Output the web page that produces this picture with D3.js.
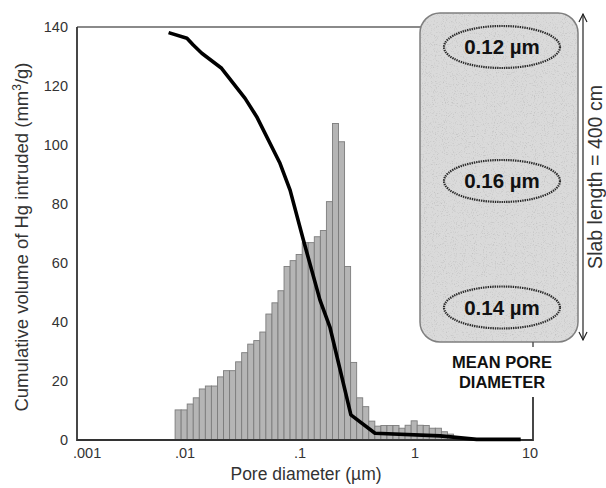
<!DOCTYPE html>
<html>
<head>
<meta charset="utf-8">
<script src="https://cdn.jsdelivr.net/npm/d3@7"></script>
<style>
  body { margin: 0; background: #fff; }
  svg { display: block; font-family: "Liberation Sans", Arial, sans-serif; }
</style>
</head>
<body>
<div class="canvas"></div>
<script>
// incremental intrusion per log-spaced bin
const barHeights = [10.2, 10.2, 12.2, 14.3, 17.3, 18.3, 18.3, 21.4, 23.5, 23.5,
    26.5, 29.6, 32.5, 33.7, 36.6, 42.7, 46.5, 50.6, 58.8, 60.8,
    62.9, 66.9, 66.9, 68.9, 71.0, 80.8, 107.3, 101.1, 58.8, 26.3,
    14.3, 11.3, 6.4, 4.7, 4.9, 4.9, 4.9, 4.0, 5.0, 6.5,
    5.0, 4.9, 4.0, 4.0, 2.8, 2.0, 1.2];
const binStart = 0.0082;   // lower edge of first bin, µm
const binsPerDecade = 19;

// cumulative curve
const curveDiameter = [0.0072, 0.0104, 0.0118, 0.014, 0.0208, 0.0333, 0.042, 0.067,
    0.082, 0.107, 0.149, 0.182, 0.277, 0.449, 1.65, 3.43, 8.3];
const curveVolume = [138.1, 136.2, 133.9, 131.1, 126.0, 115.8, 109.6, 93.8,
    84.7, 67.8, 47.5, 38.3, 8.5, 2.3, 1.4, 0.2, 0.2];

const xTicks = [0.001, 0.01, 0.1, 1, 10];
const xTickLabels = ['.001', '.01', '.1', '1', '10'];
const yTicks = [0, 20, 40, 60, 80, 100, 120, 140];

const poreLabels = ['0.12 µm', '0.16 µm', '0.14 µm'];

const dims = { width: 606, height: 488 };
const plot = { left: 77, top: 27, bottom: 440, right: 533 };

const svg = d3.select('.canvas')
    .append('svg')
    .attr('width', dims.width)
    .attr('height', dims.height);

const x = d3.scaleLog().domain([0.001, 10]).range([70, 530]);
const y = d3.scaleLinear().domain([0, 140]).range([plot.bottom, plot.top]);

// bars
const bins = barHeights.map((v, i) => ({
    lo: binStart * Math.pow(10, i / binsPerDecade),
    hi: binStart * Math.pow(10, (i + 1) / binsPerDecade),
    v
}));
svg.append('g').selectAll('rect')
    .data(bins)
    .enter().append('rect')
    .attr('x', d => x(d.lo))
    .attr('width', d => x(d.hi) - x(d.lo))
    .attr('y', d => y(d.v))
    .attr('height', d => y(0) - y(d.v))
    .attr('fill', '#b5b5b5')
    .attr('stroke', '#7c7c7c')
    .attr('stroke-width', 0.9);

// frame: top (grey), left and bottom (dark) + bracket up to the label
svg.append('line')
    .attr('x1', plot.left).attr('x2', 421)
    .attr('y1', plot.top).attr('y2', plot.top)
    .attr('stroke', '#8a8a8a').attr('stroke-width', 2);
svg.append('path')
    .attr('d', `M${plot.left},${plot.top}V${plot.bottom}H${plot.right}V397`)
    .attr('fill', 'none')
    .attr('stroke', '#333')
    .attr('stroke-width', 1.8);

// cumulative line
const line = d3.line()
    .x(d => x(d[0]))
    .y(d => y(d[1]));
svg.append('path')
    .datum(d3.zip(curveDiameter, curveVolume))
    .attr('d', line)
    .attr('fill', 'none')
    .attr('stroke', '#000')
    .attr('stroke-width', 3.6)
    .attr('stroke-linejoin', 'round');

// y tick labels
svg.append('g').selectAll('text')
    .data(yTicks)
    .enter().append('text')
    .attr('x', 68)
    .attr('y', d => y(d))
    .attr('dy', '0.36em')
    .attr('text-anchor', 'end')
    .attr('font-size', 14.5)
    .attr('fill', '#333')
    .text(d => d);

// x tick labels
svg.append('g').selectAll('text')
    .data(xTicks)
    .enter().append('text')
    .attr('x', (d, i) => i === 0 ? x(d) + 3 : x(d))
    .attr('y', 458)
    .attr('text-anchor', (d, i) => i === 0 ? 'start' : 'middle')
    .attr('font-size', 14.5)
    .attr('fill', '#333')
    .text((d, i) => xTickLabels[i]);

// axis titles
svg.append('text')
    .attr('x', 306).attr('y', 480)
    .attr('text-anchor', 'middle')
    .attr('font-size', 17.5)
    .attr('fill', '#333')
    .text('Pore diameter (µm)');

const yTitle = svg.append('text')
    .attr('transform', 'translate(28,237) rotate(-90)')
    .attr('text-anchor', 'middle')
    .attr('font-size', 18.5)
    .attr('fill', '#333');
yTitle.append('tspan').text('Cumulative volume of Hg intruded (mm');
yTitle.append('tspan').attr('font-size', 12).attr('dy', -7).text('3');
yTitle.append('tspan').attr('dy', 7).text('/g)');

// slab box with light speckle
const box = { x: 420, y: 13, w: 158, h: 329 };
const defs = svg.append('defs');
defs.append('clipPath').attr('id', 'boxclip')
    .append('rect')
    .attr('x', box.x).attr('y', box.y)
    .attr('width', box.w).attr('height', box.h)
    .attr('rx', 20);
const flt = defs.append('filter').attr('id', 'speckle')
    .attr('x', 0).attr('y', 0).attr('width', 1).attr('height', 1);
flt.append('feTurbulence')
    .attr('type', 'fractalNoise')
    .attr('baseFrequency', 0.9)
    .attr('numOctaves', 2)
    .attr('seed', 3);
flt.append('feColorMatrix')
    .attr('type', 'matrix')
    .attr('values', '0 0 0 0 0.45  0 0 0 0 0.45  0 0 0 0 0.45  3.2 0 0 0 -1.75');

svg.append('rect')
    .attr('x', box.x).attr('y', box.y)
    .attr('width', box.w).attr('height', box.h)
    .attr('rx', 20)
    .attr('fill', '#dadada');
svg.append('rect')
    .attr('x', box.x).attr('y', box.y)
    .attr('width', box.w).attr('height', box.h)
    .attr('clip-path', 'url(#boxclip)')
    .attr('filter', 'url(#speckle)')
    .attr('opacity', 0.6);
svg.append('rect')
    .attr('x', box.x).attr('y', box.y)
    .attr('width', box.w).attr('height', box.h)
    .attr('rx', 20)
    .attr('fill', 'none')
    .attr('stroke', '#7f7f7f')
    .attr('stroke-width', 1.5);

const cx = box.x + box.w / 2 + 3;
const ellY = [47, 181, 307.5];
const ell = svg.append('g').selectAll('g')
    .data(poreLabels)
    .enter().append('g')
    .attr('transform', (d, i) => `translate(${cx},${ellY[i]})`);
ell.append('ellipse')
    .attr('rx', 58).attr('ry', 21)
    .attr('fill', 'none')
    .attr('stroke', '#2a2a2a')
    .attr('stroke-width', 2.2)
    .attr('stroke-dasharray', '1.4,0.9');
ell.append('text')
    .attr('text-anchor', 'middle')
    .attr('dy', '0.36em')
    .attr('font-size', 20.5)
    .attr('font-weight', 'bold')
    .attr('fill', '#111')
    .text(d => d);

// tick from box down to label
svg.append('line')
    .attr('x1', plot.right).attr('x2', plot.right)
    .attr('y1', box.y + box.h).attr('y2', box.y + box.h + 5)
    .attr('stroke', '#555').attr('stroke-width', 1.5);

svg.append('g').selectAll('text')
    .data(['MEAN PORE', 'DIAMETER'])
    .enter().append('text')
    .attr('x', cx)
    .attr('y', (d, i) => 368 + i * 20)
    .attr('text-anchor', 'middle')
    .attr('font-size', 16.5)
    .attr('font-weight', 'bold')
    .attr('fill', '#111')
    .text(d => d);

// slab length arrow
const ax = 583;
svg.append('line')
    .attr('x1', ax).attr('x2', ax)
    .attr('y1', 14).attr('y2', 340)
    .attr('stroke', '#222').attr('stroke-width', 1.2);
svg.append('path')
    .attr('d', `M${ax - 4},22L${ax},14L${ax + 4},22M${ax - 4},332L${ax},340L${ax + 4},332`)
    .attr('fill', 'none')
    .attr('stroke', '#222').attr('stroke-width', 1.2);
svg.append('text')
    .attr('transform', 'translate(602,177) rotate(-90)')
    .attr('text-anchor', 'middle')
    .attr('font-size', 19.5)
    .attr('fill', '#333')
    .text('Slab length = 400 cm');
</script>
</body>
</html>
